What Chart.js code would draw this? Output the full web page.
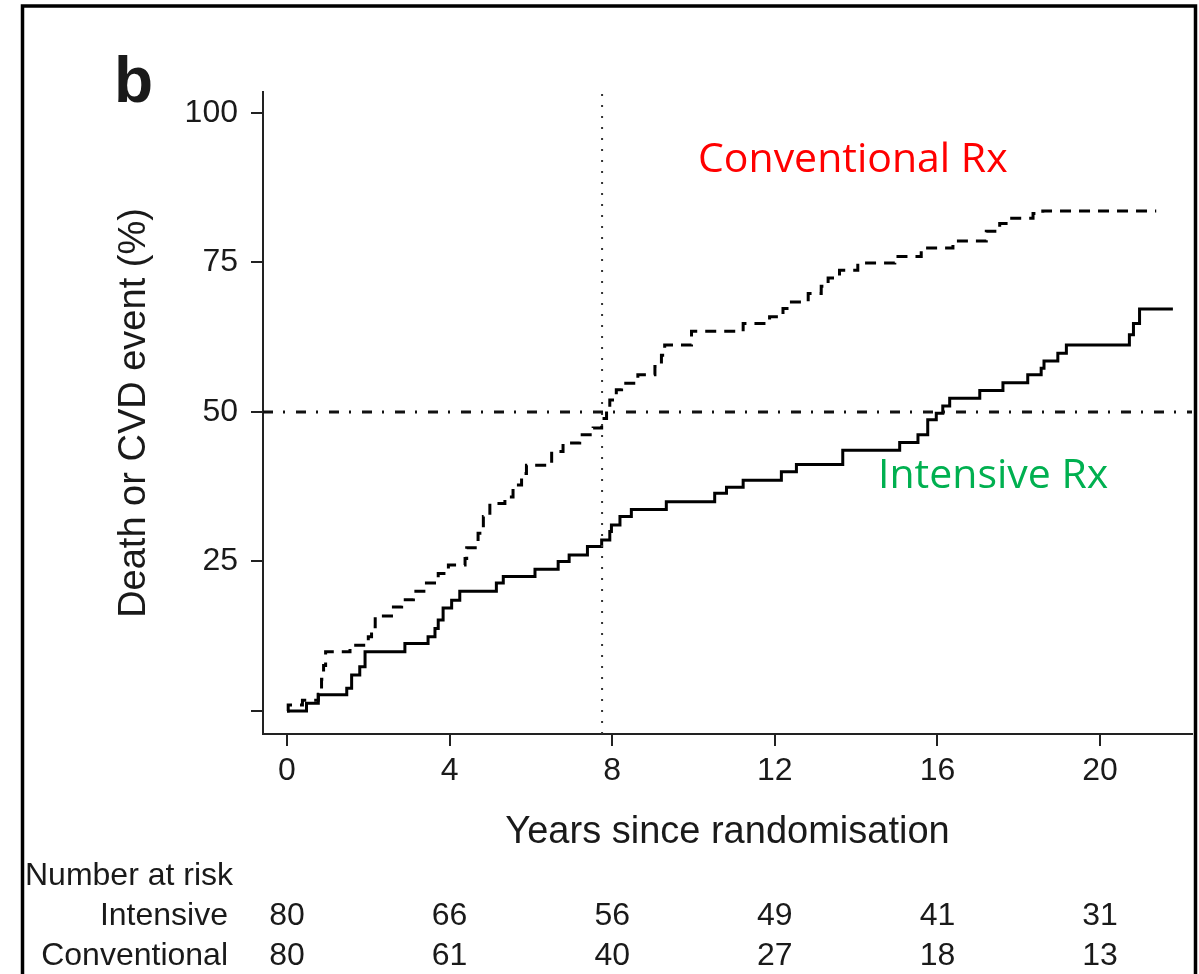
<!DOCTYPE html>
<html>
<head>
<meta charset="utf-8">
<script src="https://cdn.jsdelivr.net/npm/chart.js@4.4.1/dist/chart.umd.min.js"></script>
<style>
  html, body { margin: 0; padding: 0; background: #fff; }
  canvas { display: block; }
</style>
</head>
<body>
<canvas id="kmChart" width="1199" height="974"></canvas>
<script>
// Kaplan-Meier style cumulative incidence
const intensiveYears = [0, 0.48, 0.77, 1.47, 1.59, 1.79, 1.92, 2.90, 3.47, 3.64, 3.72, 3.84, 4.05, 4.25, 5.15, 5.32, 6.10, 6.67, 6.94, 7.39, 7.74, 7.94, 7.98, 8.19, 8.47, 9.33, 10.52, 10.81, 11.22, 12.16, 12.53, 13.67, 15.07, 15.52, 15.76, 15.97, 16.13, 16.30, 17.04, 17.61, 18.22, 18.55, 18.62, 18.96, 19.17, 20.72, 20.82, 20.97, 21.79];
const intensivePct = [0, 1.3, 2.7, 3.8, 6.0, 7.4, 9.9, 11.3, 12.4, 13.8, 15.2, 17.2, 18.5, 20.0, 21.4, 22.5, 23.7, 25.0, 26.1, 27.5, 28.6, 30.0, 31.1, 32.5, 33.7, 35.0, 36.4, 37.4, 38.6, 40.0, 41.2, 43.6, 44.9, 46.2, 48.7, 49.8, 51.0, 52.3, 53.6, 54.9, 56.2, 57.3, 58.5, 59.8, 61.2, 62.9, 64.8, 67.2, 67.2];

const conventionalYears = [0, 0.03, 0.38, 0.77, 0.85, 0.90, 0.95, 1.55, 2.00, 2.08, 2.17, 2.57, 2.82, 3.11, 3.43, 3.72, 3.97, 4.38, 4.42, 4.70, 4.83, 4.99, 5.36, 5.56, 5.77, 5.89, 6.51, 6.79, 7.20, 7.53, 7.74, 7.86, 7.94, 8.10, 8.23, 8.63, 9.05, 9.21, 9.29, 9.95, 11.22, 11.87, 12.20, 12.37, 12.82, 13.14, 13.31, 13.59, 14.04, 14.95, 15.60, 16.38, 17.20, 17.53, 17.77, 18.35, 18.59, 21.38];
const conventionalPct = [0, 1.0, 1.8, 2.8, 5.3, 7.6, 9.9, 11.0, 12.4, 14.1, 15.9, 17.4, 18.6, 20.0, 21.4, 23.0, 24.4, 25.5, 27.3, 29.7, 32.5, 34.7, 35.8, 37.8, 39.7, 41.1, 43.4, 44.8, 46.2, 47.3, 48.9, 50.3, 52.0, 53.7, 54.8, 56.2, 57.6, 59.5, 61.2, 63.5, 64.8, 65.9, 67.3, 68.4, 69.8, 71.0, 72.4, 73.7, 74.9, 76.0, 77.4, 78.6, 80.2, 81.5, 82.4, 83.2, 83.6, 83.6];

const xTickYears = [0, 4, 8, 12, 16, 20];
const yTickPct = [0, 25, 50, 75, 100];
const atRiskIntensive = [80, 66, 56, 49, 41, 31];
const atRiskConventional = [80, 61, 40, 27, 18, 13];
const landmarkYear = 7.75;
const halfwayPct = 50;

const xMin = -0.59, xMax = 22.26;
const yMin = -3.85, yMax = 103.5;

function toPoints(xs, ys) {
    let pts = [];
    for (let i = 0; i < xs.length; i++) {
        pts.push({ x: xs[i], y: ys[i] });
    }
    return pts;
}

const sansFont = "'Liberation Sans', Arial, Helvetica, sans-serif";
const inkColor = '#1a1a1a';

// texts, frame and number-at-risk table
const extrasPlugin = {
    id: 'extras',
    afterDraw(chart) {
        const c = chart.ctx;
        const xs = chart.scales.x;
        c.save();
        c.fillStyle = inkColor;

        c.font = "bold 64px " + sansFont;
        c.textAlign = 'left';
        c.textBaseline = 'alphabetic';
        c.fillText('b', 114, 102);

        c.font = "32px " + sansFont;
        c.fillText('Number at risk', 25, 885);
        c.textAlign = 'right';
        c.fillText('Intensive', 228, 925);
        c.fillText('Conventional', 228, 965);

        c.textAlign = 'center';
        for (let i = 0; i < xTickYears.length; i++) {
            let px = xs.getPixelForValue(xTickYears[i]);
            c.fillText(String(atRiskIntensive[i]), px, 925);
            c.fillText(String(atRiskConventional[i]), px, 965);
        }

        c.textAlign = 'left';
        c.font = "41px 'Open Sans', 'Noto Sans', sans-serif";
        c.fillStyle = '#ff0000';
        c.fillText('Conventional Rx', 698, 172);
        c.fillStyle = '#00b050';
        c.fillText('Intensive Rx', 878, 488);

        // outer frame
        c.strokeStyle = '#000';
        c.lineWidth = 3.5;
        c.beginPath();
        c.moveTo(22.5, 974);
        c.lineTo(22.5, 6);
        c.lineTo(1195.5, 6);
        c.lineTo(1195.5, 974);
        c.stroke();
        c.restore();
    }
};

const chart = new Chart(document.getElementById('kmChart'), {
    type: 'line',
    data: {
        datasets: [
            {
                label: 'Halfway',
                data: [{ x: xMin, y: halfwayPct }, { x: xMax, y: halfwayPct }],
                borderColor: '#111',
                borderWidth: 3,
                borderDash: [10, 10, 2, 11],
                pointRadius: 0
            },
            {
                label: 'Landmark',
                data: [{ x: landmarkYear, y: yMin }, { x: landmarkYear, y: yMax }],
                borderColor: '#333',
                borderWidth: 2,
                borderDash: [2, 9],
                pointRadius: 0
            },
            {
                label: 'Conventional',
                data: toPoints(conventionalYears, conventionalPct),
                borderColor: '#000',
                borderWidth: 3,
                borderDash: [11, 8],
                stepped: 'before',
                pointRadius: 0
            },
            {
                label: 'Intensive',
                data: toPoints(intensiveYears, intensivePct),
                borderColor: '#000',
                borderWidth: 3,
                stepped: 'before',
                pointRadius: 0
            }
        ]
    },
    options: {
        responsive: false,
        animation: false,
        devicePixelRatio: 1,
        layout: { padding: { left: 0, top: 92, right: 7, bottom: 0 } },
        plugins: {
            legend: { display: false },
            tooltip: { enabled: false }
        },
        scales: {
            x: {
                type: 'linear',
                position: 'bottom',
                min: xMin,
                max: xMax,
                afterFit: s => { s.height = 240; },
                afterBuildTicks: s => { s.ticks = xTickYears.map(v => ({ value: v })); },
                border: { color: '#222', width: 2 },
                grid: { drawOnChartArea: false, drawTicks: true, tickLength: 12, color: '#222', lineWidth: 2 },
                ticks: {
                    color: inkColor,
                    padding: 6,
                    maxRotation: 0,
                    font: { family: sansFont, size: 32 }
                },
                title: {
                    display: true,
                    text: 'Years since randomisation',
                    color: inkColor,
                    font: { family: sansFont, size: 38 },
                    padding: { top: 0, bottom: 119 }
                }
            },
            y: {
                type: 'linear',
                position: 'left',
                min: yMin,
                max: yMax,
                afterFit: s => { s.width = 263; },
                afterBuildTicks: s => { s.ticks = yTickPct.map(v => ({ value: v })); },
                border: { color: '#222', width: 2 },
                grid: { drawOnChartArea: false, drawTicks: true, tickLength: 12, color: '#222', lineWidth: 2 },
                ticks: {
                    color: inkColor,
                    padding: 13,
                    font: { family: sansFont, size: 32 },
                    callback: v => (v === 0 ? '' : String(v))
                },
                title: {
                    display: true,
                    text: 'Death or CVD event (%)',
                    color: inkColor,
                    font: { family: sansFont, size: 38 },
                    padding: { top: 112, bottom: 0 }
                }
            }
        }
    },
    plugins: [extrasPlugin]
});
</script>
</body>
</html>
